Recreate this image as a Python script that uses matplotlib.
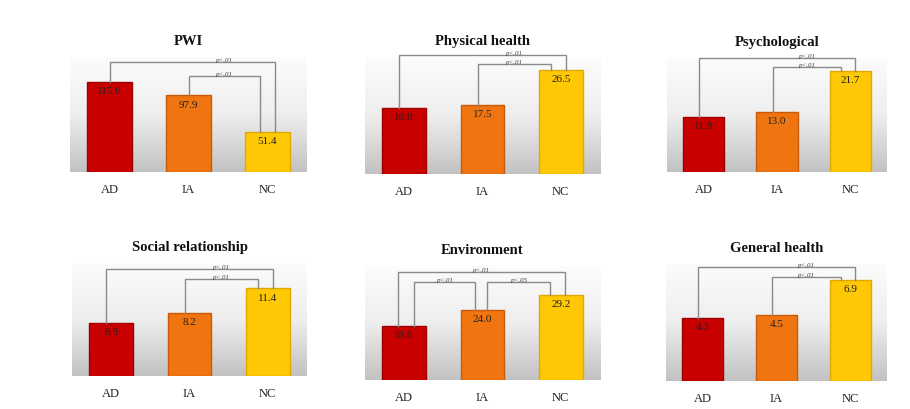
import numpy as np
import matplotlib
matplotlib.use("Agg")
import matplotlib.pyplot as plt
from matplotlib.colors import LinearSegmentedColormap

# ---------------- data ----------------
categories = ["AD", "IA", "NC"]
titles = ["PWI", "Physical health", "Psychological",
          "Social relationship", "Environment", "General health"]
pwi = [115.6, 97.9, 51.4]
physical = [16.8, 17.5, 26.5]
psychological = [11.8, 13.0, 21.7]
social = [6.9, 8.2, 11.4]
environment = [18.6, 24.0, 29.2]
general = [4.3, 4.5, 6.9]
value_labels = {
    "PWI": ["115.6", "97.9", "51.4"],
    "Physical health": ["16.8", "17.5", "26.5"],
    "Psychological": ["11.8", "13.0", "21.7"],
    "Social relationship": ["6.9", "8.2", "11.4"],
    "Environment": ["18.6", "24.0", "29.2"],
    "General health": ["4.3", "4.5", "6.9"],
}
# significance comparisons (group i, group j, label)
tests_default = [(0, 2, "p<.01"), (1, 2, "p<.01")]
tests_env = [(0, 2, "p<.01"), (0, 1, "p<.01"), (1, 2, "p<.05")]

series = [pwi, physical, psychological, social, environment, general]
tests = [tests_default, tests_default, tests_default, tests_default, tests_env, tests_default]

# ---------------- layout (pixels) ----------------
W, H = 910, 410
boxes = [  # x0, ytop, x1, ybottom of plot area
    (70, 58, 307, 173),
    (365, 58, 600, 175),
    (667, 59, 887, 173),
    (72, 264, 307, 377),
    (365, 267, 600, 381),
    (666, 265, 887, 382),
]
ymaxes = [147, 29.8, 24.5, 14.7, 39.0, 8.0]
# bracket heights as fraction of axes height, leg offsets (left, right), label x
brackets = [
    [(0.957, 0.0, 0.10, "inner"), (0.835, 0.0, -0.10, None)],
    [(1.017, -0.06, 0.06, "inner"), (0.94, -0.06, -0.13, None)],
    [(1.0, -0.06, 0.06, "inner"), (0.92, -0.06, -0.13, None)],
    [(0.947, -0.06, 0.06, "inner"), (0.858, -0.06, -0.13, None)],
    [(0.947, -0.08, 0.05, None), (0.86, 0.12, -0.09, None), (0.86, 0.06, -0.14, None)],
    [(0.974, -0.06, 0.06, "inner"), (0.889, -0.06, -0.13, None)],
]

colors = ["#C80000", "#F07410", "#FFC805"]
edges = ["#A00000", "#C85A08", "#E0A800"]

serif = ["Liberation Serif", "DejaVu Serif"]
plt.rcParams["font.family"] = serif

fig = plt.figure(figsize=(W / 100, H / 100), dpi=100)
fig.patch.set_facecolor("white")

grad_cmap = LinearSegmentedColormap.from_list("g", ["#FCFCFC", "#EEEEEE", "#C2C2C2"])
grad = np.linspace(0, 1, 256).reshape(-1, 1)

for k, (vals, title, box, ymax, tst, brk) in enumerate(zip(series, titles, boxes, ymaxes, tests, brackets)):
    x0, yt, x1, yb = box
    ax = fig.add_axes([x0 / W, 1 - yb / H, (x1 - x0) / W, (yb - yt) / H])
    ax.set_xlim(-0.5, 2.5)
    ax.set_ylim(0, ymax)
    ax.imshow(grad, cmap=grad_cmap, aspect="auto", extent=[0, 1, 0, 1],
              transform=ax.transAxes, zorder=0)
    x = np.arange(len(categories))
    ax.bar(x, vals, width=0.56, color=colors, edgecolor=edges, linewidth=1.0, zorder=2)
    for xi, v, lab in zip(x, vals, value_labels[title]):
        ax.annotate(lab, (xi, v), xytext=(0, -3), textcoords="offset points",
                    ha="center", va="top", fontsize=8, color="#222222", zorder=4)
    # align outer label with the inner (second) bracket's centre
    f2, lo2, ro2, _ = brk[1]
    i2, j2, _ = tst[1]
    inner_center = ((i2 + lo2) + (j2 + ro2)) / 2
    for (frac, lo, ro, lx), (i, j, lab) in zip(brk, tst):
        yb_ = frac * ymax
        xl, xr = i + lo, j + ro
        ax.plot([xl, xl, xr, xr], [vals[i], yb_, yb_, vals[j]], color="#8A8A8A",
                lw=1.0, zorder=3, clip_on=False, solid_joinstyle="miter")
        tx = inner_center if lx == "inner" else (xl + xr) / 2
        ax.annotate(lab, (tx, yb_), xytext=(0, 0.3), textcoords="offset points",
                    ha="center", va="bottom", fontsize=5, style="italic",
                    color="#444444", zorder=4, annotation_clip=False)
    ax.set_xticks(x)
    ax.set_xticklabels(categories, fontsize=9, color="#222222")
    ax.tick_params(axis="x", length=0, pad=8)
    ax.set_yticks([])
    for s in ax.spines.values():
        s.set_visible(False)
    ax.set_title(title, fontsize=10.5, fontweight="bold", pad=9, color="#111111")

fig.savefig("out.png", dpi=100, facecolor="white")
